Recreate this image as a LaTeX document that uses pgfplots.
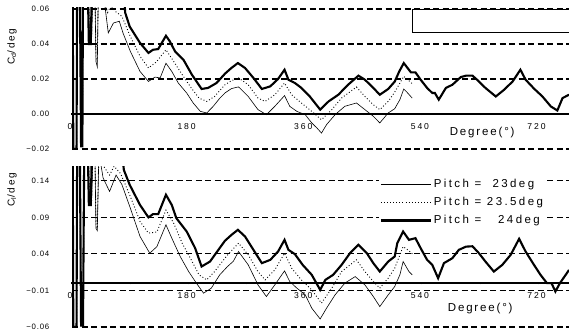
\documentclass[border=0pt]{standalone}
\usepackage{fontspec}
\setmainfont{Liberation Sans}
\newfontfamily\ytickfont{Liberation Sans}[LetterSpace=10]
\newfontfamily\xtickfont{Liberation Sans}[LetterSpace=22]
\newfontfamily\legfont{Liberation Sans}[LetterSpace=16]
\newfontfamily\legentfont{Liberation Sans}[LetterSpace=21]
\usepackage{pgfplots}
\pgfplotsset{compat=1.18}

\pgfplotsset{
  panel/.style={
    scale only axis, width=497pt, xmin=0, xmax=767,
    axis x line=middle, axis y line=left, axis line style={-},
    x axis line style={line width=1.4pt},
    y axis line style={line width=0.6pt},
    hide obscured x ticks=false,
    scaled y ticks=false, scaled x ticks=false,
    xtick={0,180,360,540,720}, xticklabels={0,180,360,540,720},
    minor xtick={90,270,450,630},
    xtick style={line width=1.2pt, black},
    major tick length=2.5pt, minor tick length=2.5pt,
    xticklabel style={font=\xtickfont\fontsize{8.6}{9}\selectfont, anchor=north, yshift=-5pt, xshift=-2pt},
    yticklabel style={font=\ytickfont\fontsize{7.8}{8}\selectfont, anchor=east, xshift=-18pt},
    ytick style={draw=none},
    ymajorgrids,
    grid style={black, line width=1.1pt, dash pattern=on 6pt off 3.5pt},
    every axis plot/.append style={black},
  },
  thin/.style={black, line width=0.6pt},
  dots/.style={black, line width=0.9pt, dash pattern=on 0.9pt off 2.2pt},
  thickc/.style={black, line width=2.1pt},
}

\begin{document}
\begin{tikzpicture}
% ---------------- Top panel: Cd ----------------
\begin{axis}[panel, at={(72pt,185pt)}, anchor=south west, height=141.05pt,
  ymin=-0.02, ymax=0.0606,
  ytick={-0.02,0.02,0.04,0.06}, yticklabels={−0.02,0.02,0.04,0.06},
  extra y ticks={0}, extra y tick labels={0.00},
  extra y tick style={grid style={draw=none}},
]
% Pitch = 23deg
\addplot[thin] coordinates {
(0,0.08)(1,0.08)(2,-0.02)(7,-0.02)(8,0.08)(12,0.08)(14,-0.018)(16,-0.018)(17,0.08)
(25,0.08)(27,0.042)(30,0.042)(33,0.08)(35,0.08)(37,0.03)(39,0.027)(41,0.08)
(48,0.07)(56,0.0463)(64,0.052)(73,0.053)(79,0.046)(90,0.0358)(105,0.0243)(118,0.0186)
(128,0.0211)(136,0.0206)(145,0.029)(154,0.0243)(164,0.0177)(177,0.012)(187,0.0063)
(198,0.0015)(208,0.0006)(218,0.0044)(228,0.009)(236,0.012)(246,0.0145)(257,0.0155)
(272,0.010)(287,0.0025)(300,-0.0004)(313,0.0044)(328,0.0105)(336,0.0044)(347,0.0015)
(360,-0.0004)(370,-0.0051)(378,-0.008)(385,-0.0109)(393,-0.006)(406,-0.0004)
(421,0.0044)(439,0.0063)(452,0.0025)(465,-0.0013)(475,-0.0051)(488,0.0006)
(498,0.003)(506,0.0082)(512,0.0143)(518,0.012)(525,0.0091)};
% Pitch = 23.5deg
\addplot[dots] coordinates {
(0,0.08)(1,0.08)(2,-0.02)(7,-0.02)(8,0.08)(12,0.08)(14,-0.018)(16,-0.018)(17,0.08)
(25,0.08)(27,0.042)(30,0.042)(33,0.08)(35,0.08)(37,0.033)(39,0.03)(41,0.08)
(45,0.07)(55,0.058)(60,0.062)(67,0.0586)(77,0.0558)(90,0.0443)(105,0.033)(118,0.0263)
(130,0.0297)(145,0.0367)(157,0.030)(170,0.0225)(184,0.0149)(196,0.0091)(208,0.0072)
(220,0.010)(236,0.0167)(246,0.019)(257,0.0206)(272,0.0167)(287,0.0091)(298,0.0072)
(313,0.011)(328,0.0177)(339,0.011)(354,0.0063)(370,0.0015)(385,-0.0033)(401,0.0025)
(416,0.0091)(439,0.0154)(452,0.010)(465,0.0053)(475,0.0025)(488,0.0072)(498,0.0125)
(505,0.017)(512,0.0215)(520,0.019)(527,0.0167)};
% Pitch = 24deg
\addplot[thickc] coordinates {
(0,0.08)(1,0.08)(2,-0.02)(7,-0.02)(8,0.08)(12,0.08)(14,-0.0185)(16,-0.0185)(17,0.08)
(24,0.08)(26,0.04)(29,0.04)(31,0.08)(79,0.08)(82,0.058)(89,0.050)(105,0.0406)
(118,0.0349)(125,0.0367)(133,0.0371)(145,0.0447)(151,0.0415)(159,0.0358)(172,0.031)
(185,0.0225)(200,0.0143)(210,0.0149)(223,0.0177)(236,0.023)(246,0.0263)(256,0.0291)
(267,0.0263)(280,0.0206)(293,0.0143)(306,0.0158)(318,0.020)(328,0.0253)(334,0.0196)
(344,0.0177)(354,0.0149)(367,0.010)(383,0.0025)(396,0.0072)(411,0.011)(426,0.0167)
(442,0.0219)(452,0.0196)(465,0.0149)(475,0.011)(488,0.0143)(498,0.0185)(505,0.0243)
(512,0.0291)(523,0.0238)(530,0.0238)(538,0.0196)(548,0.0149)(556,0.012)(560,0.012)
(566,0.0082)(577,0.0149)(587,0.0167)(600,0.0211)(608,0.0219)(618,0.0219)(625,0.0196)
(638,0.0149)(654,0.010)(667,0.0139)(680,0.0186)(692,0.0253)(700,0.0196)(713,0.0145)
(726,0.010)(739,0.0043)(749,0.002)(757,0.0091)(767,0.011)};
\draw[fill=white, line width=0.8pt] (axis cs:525,0.0600) rectangle (axis cs:820,0.0469);
\node[font=\legfont\fontsize{11.5}{12}\selectfont] at (axis cs:633,-0.0107) {Degree(°)};
\end{axis}

% ---------------- Bottom panel: Cl ----------------
\begin{axis}[panel, at={(72pt,7pt)}, anchor=south west, height=160pt,
  ymin=-0.06, ymax=0.159,
  ytick={-0.06,-0.01,0.04,0.09,0.14}, yticklabels={−0.06,−0.01,0.04,0.09,0.14},
  legend style={at={(axis cs:473,0.147)}, anchor=north west, draw=none, fill=white,
    font=\legentfont\fontsize{11.5}{12}\selectfont, row sep=4.5pt, inner sep=1pt},
  legend cell align=left,
  legend image code/.code={\draw[#1] (0pt,0pt) -- (50pt,0pt);},
]
\addplot[thin] coordinates {
(0,0.2)(1,0.2)(2,-0.06)(7,-0.06)(8,0.2)(12,0.2)(14,-0.058)(17,-0.058)(19,0.2)
(25,0.2)(27,0.107)(30,0.107)(33,0.2)(35,0.2)(37,0.075)(39,0.072)(42,0.2)
(45,0.16)(48,0.144)(58,0.1255)(68,0.148)(77,0.135)(90,0.1027)(105,0.0639)(120,0.041)
(131,0.050)(145,0.0799)(154,0.0616)(167,0.0365)(180,0.0159)(192,0)(203,-0.0137)
(215,-0.0068)(228,0.0114)(240,0.0228)(249,0.030)(257,0.0433)(272,0.025)(287,-0.0023)
(300,-0.0183)(313,-0.0023)(328,0.0168)(336,0.0023)(347,-0.0068)(360,-0.016)
(370,-0.0342)(383,-0.049)(393,-0.034)(406,-0.016)(421,0)(437,0.009)(452,-0.0023)
(465,-0.0183)(475,-0.032)(488,-0.016)(498,-0.0046)(506,0.0114)(511,0.0296)
(520,0.0159)(525,0.0114)};
\addlegendentry{Pitch =\ \ 23deg}
\addplot[dots] coordinates {
(0,0.2)(1,0.2)(2,-0.06)(7,-0.06)(8,0.2)(12,0.2)(14,-0.058)(17,-0.058)(19,0.2)
(25,0.2)(27,0.107)(30,0.107)(33,0.2)(35,0.2)(37,0.08)(39,0.075)(42,0.2)
(45,0.165)(58,0.148)(65,0.16)(75,0.15)(90,0.1187)(105,0.0845)(118,0.0685)(131,0.070)
(145,0.100)(157,0.082)(170,0.0548)(184,0.032)(196,0.0114)(208,0.0045)(220,0.0159)
(238,0.0365)(257,0.0548)(272,0.0388)(287,0.0159)(298,0.0045)(313,0.0182)(328,0.041)
(339,0.0205)(354,0.0045)(370,-0.0092)(385,-0.0274)(401,-0.0068)(416,0.0159)
(439,0.0319)(452,0.0159)(465,0.0023)(475,-0.0068)(488,0.0068)(498,0.0205)
(511,0.050)(519,0.045)(527,0.0388)};
\addlegendentry{Pitch = 23.5deg}
\addplot[thickc] coordinates {
(0,0.2)(1,0.2)(2,-0.06)(7,-0.06)(8,0.2)(12,0.2)(14,-0.058)(17,-0.058)(19,0.2)
(24,0.2)(26,0.107)(29,0.107)(31,0.2)(75,0.2)(80,0.155)(89,0.1347)(105,0.107)
(118,0.090)(125,0.0945)(133,0.0945)(145,0.121)(154,0.107)(161,0.089)(177,0.0707)
(190,0.048)(200,0.0228)(213,0.0296)(223,0.042)(236,0.058)(246,0.066)(256,0.073)
(267,0.0639)(280,0.0456)(293,0.0274)(306,0.0319)(318,0.0433)(328,0.0593)(334,0.0456)
(344,0.0397)(356,0.025)(370,0.0114)(383,-0.0092)(391,0.0045)(403,0.0114)(416,0.025)
(429,0.041)(442,0.0525)(455,0.041)(465,0.0274)(475,0.0159)(488,0.0296)(498,0.0365)
(502,0.0548)(511,0.0707)(520,0.0593)(530,0.0616)(538,0.048)(548,0.0319)(556,0.025)
(565,0.0068)(574,0.0274)(587,0.0342)(597,0.0456)(608,0.050)(618,0.0505)(628,0.041)
(638,0.0296)(651,0.0159)(664,0.025)(677,0.0388)(690,0.0607)(700,0.0433)(713,0.025)
(723,0.0114)(733,0.0)(740,0.0)(746,-0.0114)(753,0.0)(767,0.018)};
\addlegendentry{Pitch =\ \ \ 24deg}
\node[font=\legfont\fontsize{11.5}{12}\selectfont] at (axis cs:630,-0.0352) {Degree(°)};
\end{axis}

% y-axis titles
\node[rotate=90, font=\legfont\fontsize{10}{11}\selectfont] at (12pt,287pt) {C\textsubscript{d}/deg};
\node[rotate=90, font=\legfont\fontsize{10}{11}\selectfont] at (12pt,144pt) {C\textsubscript{l}/deg};

\pgfresetboundingbox
\useasboundingbox (0pt,0pt) rectangle (569pt,334pt);
\end{tikzpicture}
\end{document}
